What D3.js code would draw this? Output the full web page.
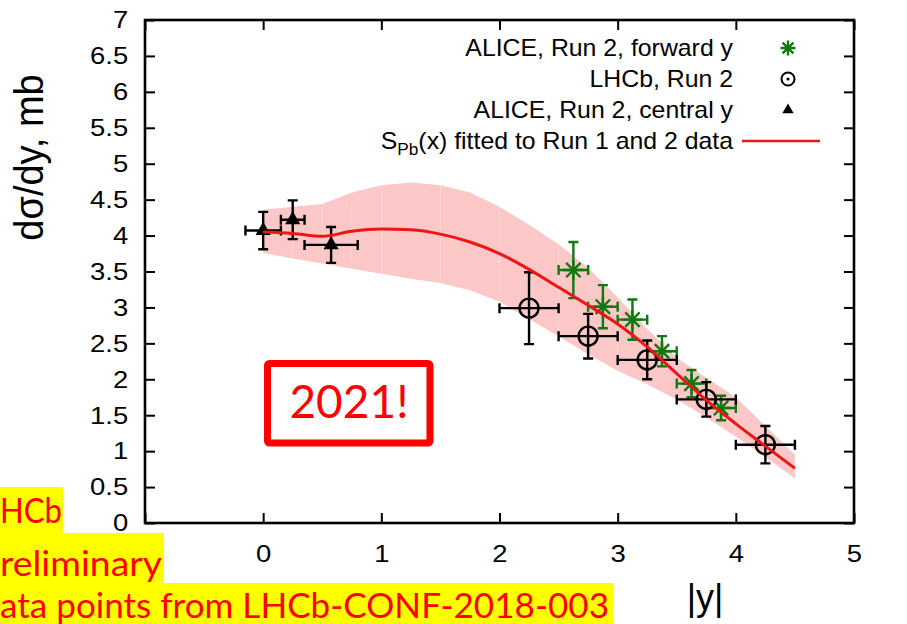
<!DOCTYPE html>
<html>
<head>
<meta charset="utf-8">
<script src="https://cdn.jsdelivr.net/npm/d3@7"></script>
<style>
  html, body { margin: 0; padding: 0; background: #ffffff; }
  svg { display: block; }
</style>
</head>
<body>
<svg id="chart" width="907" height="624"></svg>
<script>
// Coherent J/psi photoproduction in Pb-Pb: dsigma/dy versus |y|

const xTicks = [-1, 0, 1, 2, 3, 4, 5];
const xTickLabels = ["", "0", "1", "2", "3", "4", "5"];
const yTicks = [0, 0.5, 1, 1.5, 2, 2.5, 3, 3.5, 4, 4.5, 5, 5.5, 6, 6.5, 7];

// ALICE, Run 2, central rapidity
const centralY = [0.0, 0.25, 0.575];
const centralHalfBin = [0.15, 0.10, 0.225];
const centralXsec = [4.07, 4.22, 3.87];
const centralErr = [0.26, 0.27, 0.25];

// LHCb, Run 2
const lhcbY = [2.25, 2.75, 3.25, 3.75, 4.25];
const lhcbHalfBin = [0.25, 0.25, 0.25, 0.25, 0.25];
const lhcbXsec = [2.99, 2.60, 2.27, 1.72, 1.09];
const lhcbErr = [0.50, 0.31, 0.27, 0.24, 0.26];

// ALICE, Run 2, forward rapidity
const forwardY = [2.625, 2.875, 3.125, 3.375, 3.625, 3.875];
const forwardHalfBin = [0.125, 0.125, 0.125, 0.125, 0.125, 0.125];
const forwardXsec = [3.52, 3.01, 2.83, 2.39, 1.94, 1.60];
const forwardErr = [0.39, 0.30, 0.28, 0.21, 0.19, 0.17];

// S_Pb(x) fit with its uncertainty band
const fitY    = [0, 0.25, 0.5, 0.75, 1.0, 1.25, 1.5, 1.75, 2.0, 2.25, 2.5, 2.75, 3.0, 3.25, 3.5, 3.75, 4.0, 4.25, 4.5];
const fitXsec = [4.05, 4.03, 3.99, 4.06, 4.09, 4.08, 4.02, 3.91, 3.75, 3.53, 3.28, 3.03, 2.77, 2.45, 2.08, 1.71, 1.38, 1.07, 0.76];
const fitLow  = [3.76, 3.68, 3.61, 3.54, 3.47, 3.40, 3.34, 3.24, 3.08, 2.84, 2.60, 2.35, 2.12, 1.93, 1.72, 1.47, 1.20, 0.92, 0.62];
const fitHigh = [4.36, 4.40, 4.44, 4.60, 4.70, 4.74, 4.70, 4.60, 4.40, 4.15, 3.88, 3.55, 3.14, 2.70, 2.30, 2.02, 1.75, 1.35, 0.95];

const legendLabels = ["ALICE, Run 2, forward y", "LHCb, Run 2", "ALICE, Run 2, central y", "fitted to Run 1 and 2 data"];

const svg = d3.select("#chart");
const W = 907, H = 624;
const m = { left: 145, right: 854, top: 20, bottom: 523 };

const x = d3.scaleLinear().domain([-1, 5]).range([m.left, m.right]);
const y = d3.scaleLinear().domain([0, 7]).range([m.bottom, m.top]);

const RED = "#ee1515";
const GREEN = "#117811";
const BAND = "#fbc7c7";
const FONT = "'Liberation Sans', Arial, Helvetica, sans-serif";

svg.append("rect").attr("width", W).attr("height", H).attr("fill", "#ffffff");

// uncertainty band, one quad per rapidity step
const bandPts = fitY.map((v, i) => ({ x: v, lo: fitLow[i], hi: fitHigh[i] }));
const band = d3.area().x(d => x(d.x)).y0(d => y(d.lo)).y1(d => y(d.hi));
const bandG = svg.append("g");
for (let i = 0; i < bandPts.length - 1; i++) {
  bandG.append("path")
    .attr("d", band([bandPts[i], bandPts[i + 1]]))
    .attr("fill", BAND);
}

// error bars with end caps
function errorBars(g, xs, half, vals, errs, color) {
  const cap = 5;
  xs.forEach((xv, i) => {
    const cx = x(xv), cy = y(vals[i]);
    const x0 = x(xv - half[i]), x1 = x(xv + half[i]);
    const y0 = y(vals[i] - errs[i]), y1 = y(vals[i] + errs[i]);
    const p = d3.path();
    p.moveTo(x0, cy); p.lineTo(x1, cy);
    p.moveTo(x0, cy - cap); p.lineTo(x0, cy + cap);
    p.moveTo(x1, cy - cap); p.lineTo(x1, cy + cap);
    p.moveTo(cx, y0); p.lineTo(cx, y1);
    p.moveTo(cx - cap, y0); p.lineTo(cx + cap, y0);
    p.moveTo(cx - cap, y1); p.lineTo(cx + cap, y1);
    g.append("path").attr("d", p.toString())
      .attr("fill", "none").attr("stroke", color).attr("stroke-width", 2.4);
  });
}

function asterisk(s) {
  const d = s * 0.72;
  return `M${-s},0L${s},0M0,${-s}L0,${s}M${-d},${-d}L${d},${d}M${-d},${d}L${d},${-d}`;
}

// forward ALICE points
const fwdG = svg.append("g");
errorBars(fwdG, forwardY, forwardHalfBin, forwardXsec, forwardErr, GREEN);
forwardY.forEach((xv, i) => {
  fwdG.append("path")
    .attr("transform", `translate(${x(xv)},${y(forwardXsec[i])})`)
    .attr("d", asterisk(10))
    .attr("fill", "none").attr("stroke", GREEN).attr("stroke-width", 2.4);
});

// LHCb points
const lhcbG = svg.append("g");
errorBars(lhcbG, lhcbY, lhcbHalfBin, lhcbXsec, lhcbErr, "#000");
lhcbY.forEach((xv, i) => {
  lhcbG.append("circle")
    .attr("cx", x(xv)).attr("cy", y(lhcbXsec[i])).attr("r", 9.5)
    .attr("fill", "none").attr("stroke", "#000").attr("stroke-width", 2.4);
});

// central ALICE points
const cenG = svg.append("g");
errorBars(cenG, centralY, centralHalfBin, centralXsec, centralErr, "#000");
const tri = d3.symbol(d3.symbolTriangle, 100);
centralY.forEach((xv, i) => {
  cenG.append("path")
    .attr("transform", `translate(${x(xv)},${y(centralXsec[i])})`)
    .attr("d", tri()).attr("fill", "#000");
});

// fitted curve
const line = d3.line().x((d, i) => x(fitY[i])).y(d => y(d)).curve(d3.curveMonotoneX);
svg.append("path").attr("d", line(fitXsec))
  .attr("fill", "none").attr("stroke", RED).attr("stroke-width", 3);

// axes with inward ticks
function styleAxis(g) {
  g.select(".domain").remove();
  g.selectAll(".tick line").attr("stroke", "#000").attr("stroke-width", 2);
}
const tickFont = 24.5, stretch = 1.12;

const gL = svg.append("g").attr("transform", `translate(${m.left},0)`)
  .call(d3.axisLeft(y).tickValues(yTicks).tickSize(-10).tickPadding(15).tickFormat(d3.format("")));
styleAxis(gL);
gL.selectAll(".tick text")
  .attr("font-family", FONT).attr("font-size", tickFont).attr("fill", "#000")
  .attr("transform", `scale(${stretch},1)`);

const gR = svg.append("g").attr("transform", `translate(${m.right},0)`)
  .call(d3.axisRight(y).tickValues(yTicks).tickSize(-10).tickFormat(""));
styleAxis(gR);

const gB = svg.append("g").attr("transform", `translate(0,${m.bottom})`)
  .call(d3.axisBottom(x).tickValues(xTicks).tickSize(-10).tickPadding(22)
    .tickFormat((d, i) => xTickLabels[i]));
styleAxis(gB);
gB.selectAll(".tick text")
  .attr("font-family", FONT).attr("font-size", tickFont).attr("fill", "#000")
  .attr("transform", `scale(${stretch},1)`);

const gT = svg.append("g").attr("transform", `translate(0,${m.top})`)
  .call(d3.axisTop(x).tickValues(xTicks).tickSize(-10).tickFormat(""));
styleAxis(gT);

// frame
svg.append("rect")
  .attr("x", m.left).attr("y", m.top)
  .attr("width", m.right - m.left).attr("height", m.bottom - m.top)
  .attr("fill", "none").attr("stroke", "#000").attr("stroke-width", 2.6);

// axis titles
svg.append("text")
  .attr("transform", "translate(43,157.5) scale(1.08,1) rotate(-90)")
  .attr("text-anchor", "middle")
  .attr("font-family", FONT).attr("font-size", 38).attr("fill", "#000")
  .text("dσ/dy, mb");

svg.append("text")
  .attr("x", 705).attr("y", 610)
  .attr("text-anchor", "middle")
  .attr("font-family", FONT).attr("font-size", 36).attr("fill", "#000")
  .text("|y|");

// legend
const legRight = 733, legMarkX = 788, legBase0 = 56, legStep = 31;
const legG = svg.append("g");
legendLabels.forEach((lab, i) => {
  const t = legG.append("text")
    .attr("transform", `translate(${legRight},${legBase0 + i * legStep}) scale(1.08,1)`)
    .attr("text-anchor", "end")
    .attr("font-family", FONT).attr("font-size", 23).attr("fill", "#000");
  if (i === 3) {
    t.append("tspan").text("S");
    t.append("tspan").attr("font-size", 16).attr("dy", 6).text("Pb");
    t.append("tspan").attr("dy", -6).text("(x) " + lab);
  } else {
    t.text(lab);
  }
});
const legY = i => legBase0 + i * legStep - 8;
legG.append("path").attr("transform", `translate(${legMarkX},${legY(0)})`)
  .attr("d", asterisk(7.5)).attr("fill", "none").attr("stroke", GREEN).attr("stroke-width", 2.4);
legG.append("circle").attr("cx", legMarkX).attr("cy", legY(1)).attr("r", 6.5)
  .attr("fill", "none").attr("stroke", "#000").attr("stroke-width", 2);
legG.append("circle").attr("cx", legMarkX).attr("cy", legY(1)).attr("r", 1.6).attr("fill", "#000");
legG.append("path").attr("transform", `translate(${legMarkX},${legY(2)})`)
  .attr("d", d3.symbol(d3.symbolTriangle, 55)()).attr("fill", "#000");
legG.append("line")
  .attr("x1", 742).attr("x2", 820).attr("y1", legY(3)).attr("y2", legY(3))
  .attr("stroke", RED).attr("stroke-width", 2.6);

// highlighted note and year box
const NOTE = "Lato, 'Open Sans', sans-serif";
const noteLines = [
  { text: "HCb", box: [0, 487, 63, 46], base: 523, len: 62 },
  { text: "reliminary", box: [0, 533, 164, 50], base: 576, len: 162 },
  { text: "ata points from LHCb-CONF-2018-003", box: [0, 583, 613, 41], base: 618, len: 609 }
];
const noteG = svg.append("g");
noteLines.forEach(n => {
  noteG.append("rect")
    .attr("x", n.box[0]).attr("y", n.box[1]).attr("width", n.box[2]).attr("height", n.box[3])
    .attr("fill", "#ffff00");
});
noteLines.forEach(n => {
  noteG.append("text")
    .attr("x", 0).attr("y", n.base)
    .attr("font-family", NOTE).attr("font-size", 35).attr("fill", "#ff0000")
    .attr("textLength", n.len).attr("lengthAdjust", "spacingAndGlyphs")
    .text(n.text);
});

svg.append("rect")
  .attr("x", 267.5).attr("y", 363.5).attr("width", 162.5).attr("height", 79.5)
  .attr("rx", 2).attr("fill", "#ffffff").attr("stroke", "#ff0000").attr("stroke-width", 7);
svg.append("text")
  .attr("x", 349).attr("y", 418)
  .attr("text-anchor", "middle")
  .attr("font-family", NOTE).attr("font-size", 46).attr("fill", "#ff0000")
  .text("2021!");
</script>
</body>
</html>
